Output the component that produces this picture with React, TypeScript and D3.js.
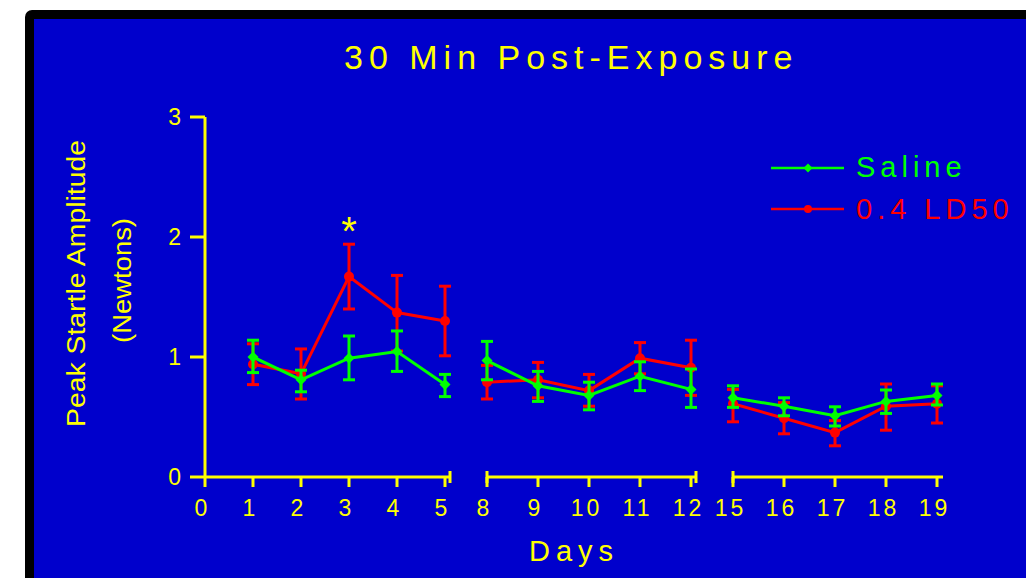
import React from 'react';
import * as d3 from 'd3';

const days = [1, 2, 3, 4, 5, 8, 9, 10, 11, 12, 15, 16, 17, 18, 19];
const salineMean = [1.0, 0.81, 0.99, 1.045, 0.77, 0.97, 0.76, 0.68, 0.84, 0.73, 0.66, 0.59, 0.51, 0.63, 0.68];
const salineHi = [1.14, 0.89, 1.175, 1.217, 0.855, 1.13, 0.88, 0.79, 0.96, 0.9, 0.76, 0.66, 0.585, 0.725, 0.775];
const salineLo = [0.87, 0.71, 0.81, 0.88, 0.67, 0.81, 0.63, 0.56, 0.72, 0.58, 0.58, 0.51, 0.425, 0.53, 0.6];
const ldMean = [0.94, 0.86, 1.67, 1.37, 1.3, 0.79, 0.81, 0.72, 0.99, 0.91, 0.61, 0.49, 0.37, 0.59, 0.61];
const ldHi = [1.11, 1.067, 1.94, 1.68, 1.59, 0.93, 0.955, 0.855, 1.12, 1.14, 0.73, 0.62, 0.47, 0.775, 0.76];
const ldLo = [0.77, 0.65, 1.4, 1.05, 1.01, 0.65, 0.66, 0.59, 0.86, 0.68, 0.46, 0.36, 0.26, 0.39, 0.45];

const segmentDomains: [number, number][] = [[0, 5], [8, 12], [15, 19]];
const segmentTicks = [[0, 1, 2, 3, 4, 5], [8, 9, 10, 11, 12], [15, 16, 17, 18, 19]];
const yTicks = [0, 1, 2, 3];
const significantDays = [3];

const title = '30 Min Post-Exposure';
const yLabel1 = 'Peak Startle Amplitude';
const yLabel2 = '(Newtons)';
const xLabel = 'Days';
const seriesNames = ['Saline', '0.4 LD50'];

const BLUE = '#0000CC';
const YELLOW = '#FFFF00';
const GREEN = '#00FF00';
const RED = '#FF0000';
const FONT = '"Liberation Sans", Arial, Helvetica, sans-serif';

export default function App() {
  const W = 1026;
  const H = 578;
  const y = d3.scaleLinear().domain([0, 3]).range([477, 117]);
  const segRanges: [number, number][] = [[205, 445], [487, 691], [733, 937]];
  const segScales = segmentDomains.map((d, i) => d3.scaleLinear().domain(d).range(segRanges[i]));
  const segOf = (d: number) => segmentDomains.findIndex(([a, b]) => d >= a && d <= b);
  const x = (d: number) => segScales[segOf(d)](d);
  const axisY = y(0);

  const axisExtents: [number, number][] = [[205, 450], [487, 696], [733, 943]];
  const caps = [450, 487, 696, 733];

  const series = [
    { name: seriesNames[1], color: RED, mean: ldMean, hi: ldHi, lo: ldLo, marker: 'circle' },
    { name: seriesNames[0], color: GREEN, mean: salineMean, hi: salineHi, lo: salineLo, marker: 'diamond' },
  ];

  const diamond = (cx: number, cy: number, r: number) =>
    `M${cx},${cy - r}L${cx + r},${cy}L${cx},${cy + r}L${cx - r},${cy}Z`;

  return (
    <svg
      width={W}
      height={H}
      style={{ position: 'fixed', left: 0, top: 0, display: 'block', background: '#fff' }}
      fontFamily={FONT}
    >
      <rect x={25} y={10} width={1100} height={700} rx={7} fill="#000" />
      <rect x={34} y={19} width={1100} height={700} fill={BLUE} />

      {/* title */}
      <text x={344} y={69} fontSize={34} fill={YELLOW} letterSpacing={6}>
        {title}
      </text>

      {/* y axis */}
      <line x1={205} x2={205} y1={y(3)} y2={axisY} stroke={YELLOW} strokeWidth={3} />
      {yTicks.map((t) => (
        <g key={'yt' + t}>
          <line x1={190} x2={205} y1={y(t)} y2={y(t)} stroke={YELLOW} strokeWidth={3} />
          <text x={181} y={y(t) + 8.3} fontSize={23} fill={YELLOW} textAnchor="end">
            {t}
          </text>
        </g>
      ))}

      {/* x axis segments */}
      {axisExtents.map(([a, b], i) => (
        <line key={'ax' + i} x1={a} x2={b} y1={axisY} y2={axisY} stroke={YELLOW} strokeWidth={3} />
      ))}
      {caps.map((c, i) => (
        <line key={'cap' + i} x1={c} x2={c} y1={axisY - 6} y2={axisY + 6} stroke={YELLOW} strokeWidth={3} />
      ))}
      {segmentTicks.map((ticks, si) =>
        ticks.map((t) => (
          <g key={'xt' + t}>
            <line
              x1={segScales[si](t)}
              x2={segScales[si](t)}
              y1={axisY}
              y2={axisY + 10}
              stroke={YELLOW}
              strokeWidth={3}
            />
            <text
              x={segScales[si](t) - 2.5}
              y={516}
              fontSize={23}
              fill={YELLOW}
              textAnchor="middle"
              letterSpacing={3}
            >
              {t}
            </text>
          </g>
        ))
      )}

      {/* axis labels */}
      <text x={529} y={561} fontSize={29} fill={YELLOW} letterSpacing={6}>
        {xLabel}
      </text>
      <text
        transform="translate(85,283.5) rotate(-90)"
        fontSize={25}
        fill={YELLOW}
        textAnchor="middle"
        textLength={287}
        lengthAdjust="spacingAndGlyphs"
      >
        {yLabel1}
      </text>
      <text
        transform="translate(130.5,280.5) rotate(-90)"
        fontSize={25}
        fill={YELLOW}
        textAnchor="middle"
        textLength={125}
        lengthAdjust="spacingAndGlyphs"
      >
        {yLabel2}
      </text>

      {/* series */}
      {series.map((s) => {
        const lp = d3
          .line<number>()
          .x((i) => x(days[i]))
          .y((i) => y(s.mean[i]));
        const groups = segmentDomains.map((_, si) => days.map((d, i) => i).filter((i) => segOf(days[i]) === si));
        return (
          <g key={s.name}>
            {groups.map((g, gi) => (
              <path key={gi} d={lp(g) || ''} fill="none" stroke={s.color} strokeWidth={3} />
            ))}
            {days.map((d, i) => {
              const cx = x(d);
              return (
                <g key={'e' + i} stroke={s.color} strokeWidth={3}>
                  <line x1={cx} x2={cx} y1={y(s.hi[i])} y2={y(s.lo[i])} />
                  <line x1={cx - 6} x2={cx + 6} y1={y(s.hi[i])} y2={y(s.hi[i])} />
                  <line x1={cx - 6} x2={cx + 6} y1={y(s.lo[i])} y2={y(s.lo[i])} />
                </g>
              );
            })}
            {days.map((d, i) =>
              s.marker === 'circle' ? (
                <circle key={'m' + i} cx={x(d)} cy={y(s.mean[i])} r={5} fill={s.color} />
              ) : (
                <path key={'m' + i} d={diamond(x(d), y(s.mean[i]), 5.5)} fill={s.color} />
              )
            )}
          </g>
        );
      })}

      {/* significance marker */}
      {significantDays.map((d) => (
        <text key={'sig' + d} x={x(d)} y={245} fontSize={40} fill={YELLOW} textAnchor="middle">
          *
        </text>
      ))}

      {/* legend */}
      <g>
        <line x1={771} x2={844} y1={168} y2={168} stroke={GREEN} strokeWidth={2.5} />
        <path d={diamond(808, 168, 4.5)} fill={GREEN} />
        <text x={856} y={177} fontSize={29} fill={GREEN} letterSpacing={5}>
          {seriesNames[0]}
        </text>
        <line x1={771} x2={844} y1={209} y2={209} stroke={RED} strokeWidth={2.5} />
        <circle cx={808} cy={209} r={4} fill={RED} />
        <text x={856} y={219} fontSize={29} fill={RED} letterSpacing={5}>
          {seriesNames[1]}
        </text>
      </g>
    </svg>
  );
}
